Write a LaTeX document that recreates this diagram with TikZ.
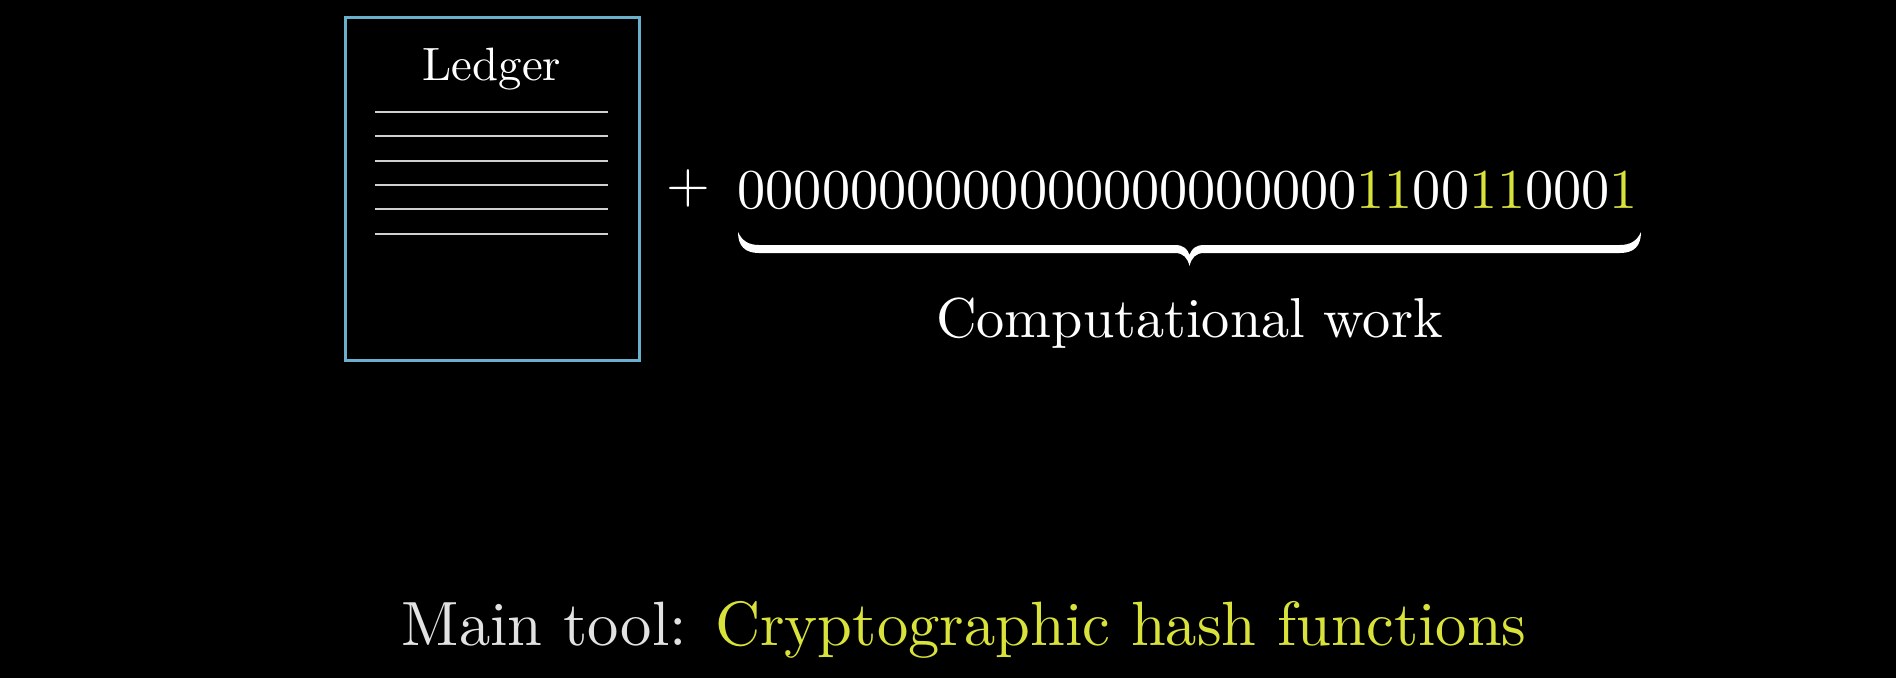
\documentclass[tikz,border=0pt]{standalone}
\usepackage{fontspec}
% keep the 10pt design size at every scale
\setmainfont{lmroman10-regular}[Extension=.otf]
\definecolor{docblue}{HTML}{68B0CC}
\definecolor{hashyellow}{HTML}{D8E23A}
\definecolor{rulegray}{HTML}{D0D0D0}
\definecolor{softwhite}{HTML}{E2E2E2}
\newcommand{\yb}[1]{\textcolor{hashyellow}{#1}}
\tikzset{
  docbox/.style={draw=docblue, line width=0.9pt, minimum width=2.94cm, minimum height=3.43cm, inner sep=0pt, anchor=north west},
  docline/.style={draw=rulegray, line width=0.5pt},
  txt/.style={text=white, inner sep=0pt},
}
\begin{document}
\begin{tikzpicture}[x=0.01cm, y=-0.01cm]
  % canvas
  \fill[black] (0,0) rectangle (1896,678);
  \useasboundingbox (0,0) rectangle (1896,678);

  % ledger sheet
  \node (ledger) [docbox] at (344,16) {};
  \node (title) [txt, anchor=base] at (492,80) {\fontsize{13.3}{16}\selectfont Ledger};
  \foreach \yy in {112,136,161,185,209,234}
    \draw[docline] (375,\yy) -- (608,\yy);

  % plus sign and the nonce bits
  \node (plus) [txt, anchor=center] at (688.5,188) {\fontsize{16}{19}\selectfont +};
  \node (bits) [txt, anchor=base west] at (737,208)
    {\fontsize{16}{19}\selectfont 0000000000000000000000\yb{11}00\yb{11}000\yb{1}};

  % brace under the bits
  \coordinate (bl) at (738,232);
  \coordinate (br) at (1641,232);
  \coordinate (tip) at (1189.5,266);
  \fill[white]
    (bl) .. controls (738,246) and (745,253) .. (759,253)
    -- (1175,253) .. controls (1183.5,253) and (1187.5,258) .. (tip)
    .. controls (1191.5,258) and (1195.5,253) .. (1204,253)
    -- (1620,253) .. controls (1634,253) and (1641,246) .. (br)
    .. controls (1637,241) and (1630,245) .. (1620,245)
    -- (1204,245) .. controls (1195.5,245) and (1191.5,249) .. (1189.5,255)
    .. controls (1187.5,249) and (1183.5,245) .. (1175,245)
    -- (759,245) .. controls (749,245) and (742,241) .. (bl) -- cycle;

  \node (work) [txt, anchor=base] at (1189.5,337) {\fontsize{16}{19}\selectfont Computational work};

  % caption
  \node (caption) [txt, anchor=base west] at (401,645)
    {\fontsize{17.8}{21}\selectfont\textcolor{softwhite}{Main tool:}\hspace{0.45em}\textcolor{hashyellow}{Cryptographic hash functions}};
\end{tikzpicture}
\end{document}
